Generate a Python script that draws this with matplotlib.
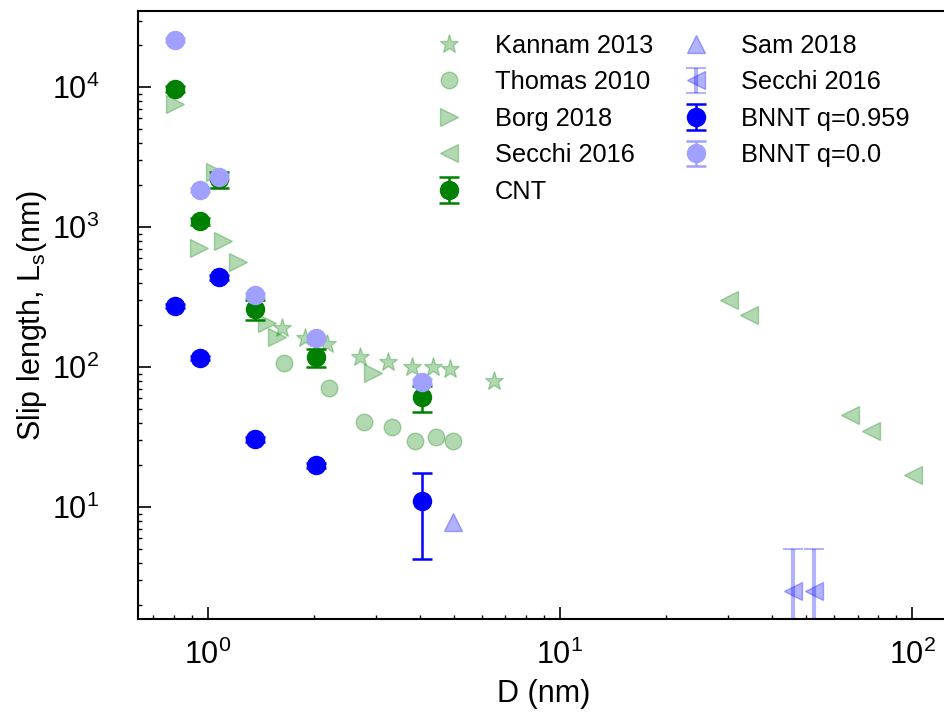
import numpy as np
import matplotlib
matplotlib.use("Agg")
from matplotlib import pyplot as plt

plt.rcParams["font.family"] = ["Liberation Sans", "DejaVu Sans"]
plt.rcParams["mathtext.fontset"] = "custom"
plt.rcParams["mathtext.rm"] = "Liberation Sans"
plt.rcParams["mathtext.default"] = "regular"

# literature data (D in nm, slip length in nm)
kannam_d = [1.626, 1.889, 2.18, 2.71, 3.25, 3.80, 4.365, 4.88, 6.51]
kannam_ls = [190, 161, 146, 118, 109, 100, 100, 96.8, 79.4]

thomas_d = [1.647, 2.21, 2.78, 3.34, 3.88, 4.45, 4.98]
thomas_ls = [107, 70.8, 40.5, 37.3, 29.6, 31.6, 29.6]

borg_d = [0.807, 0.945, 1.05, 1.105, 1.219, 1.474, 1.573, 2.95]
borg_ls = [7565, 708, 2500, 794, 562, 206, 164, 90.6]

secchi_d = [30.1, 34.3, 66.4, 76.6, 100.2]
secchi_ls = [301, 235, 45.4, 34.9, 16.9]

sam_d = [4.98]
sam_ls = [7.8]

secchi_bn_d = [46.0, 52.5]
secchi_bn_ls = [2.5, 2.5]
secchi_bn_err = [2.5, 2.5]

# simulation data
tube_d = [0.81, 0.95, 1.08, 1.36, 2.03, 4.07]
cnt_ls = [9680, 1104, 2200, 259, 118, 61]
cnt_err = [500, 70, 300, 42, 17, 13]
bnnt959_ls = [273, 116, 440, 30.6, 20, 11.0]
bnnt959_err = [10, 4, 18, 1.2, 0.8, 6.7]
bnnt0_ls = [21660, 1836, 2276, 326, 161, 79]
bnnt0_err = [700, 60, 80, 12, 6, 3]

fig = plt.figure(figsize=(9.45, 7.25), dpi=100)
ax = fig.add_axes([138 / 945, 106 / 725, 812 / 945, 608 / 725])

lit_green = dict(color="green", alpha=0.3, linestyle="none")
h_kannam, = ax.plot(kannam_d, kannam_ls, marker="*", markersize=14, label="Kannam 2013", **lit_green)
h_thomas, = ax.plot(thomas_d, thomas_ls, marker="o", markersize=12, label="Thomas 2010", **lit_green)
h_borg, = ax.plot(borg_d, borg_ls, marker=">", markersize=13, label="Borg 2018", **lit_green)
h_secchi, = ax.plot(secchi_d, secchi_ls, marker="<", markersize=13, label="Secchi 2016", **lit_green)
h_sam, = ax.plot(sam_d, sam_ls, marker="^", markersize=13, color="blue", alpha=0.3,
                 linestyle="none", label="Sam 2018")
h_secchi_bn = ax.errorbar(secchi_bn_d, secchi_bn_ls, yerr=secchi_bn_err, fmt="<", markersize=13,
                          color="blue", alpha=0.3, elinewidth=3, capsize=7, capthick=1.5,
                          label="Secchi 2016")

h_cnt = ax.errorbar(tube_d, cnt_ls, yerr=cnt_err, fmt="o", markersize=13, color="green",
                    elinewidth=1.8, capsize=7, capthick=1.8, label="CNT")
h_bn959 = ax.errorbar(tube_d, bnnt959_ls, yerr=bnnt959_err, fmt="o", markersize=13, color="blue",
                      elinewidth=1.8, capsize=7, capthick=1.8, label="BNNT q=0.959")
h_bn0 = ax.errorbar(tube_d, bnnt0_ls, yerr=bnnt0_err, fmt="o", markersize=13, color="#a0a0ff",
                    elinewidth=1.8, capsize=7, capthick=1.8, label="BNNT q=0.0")

ax.set_xscale("log")
ax.set_yscale("log")
ax.set_xlim(0.634, 128)
ax.set_ylim(1.59, 35080)

ax.spines["right"].set_visible(False)
for sp in ax.spines.values():
    sp.set_linewidth(1.5)
ax.tick_params(which="both", direction="in", top=False, right=False, labelsize=22)
ax.tick_params(axis="x", which="major", pad=15)
ax.tick_params(axis="y", which="major", pad=28)
ax.tick_params(which="major", length=9, width=1.2)
ax.tick_params(which="minor", length=3, width=1)

ax.set_xlabel("D (nm)", fontsize=22, labelpad=6)
ax.set_ylabel("Slip length, L$_s$(nm)", fontsize=22, labelpad=2)

handles = [h_kannam, h_thomas, h_borg, h_secchi, h_cnt, h_sam, h_secchi_bn, h_bn959, h_bn0]
ax.legend(handles=handles, labels=[h.get_label() for h in handles], ncol=2, frameon=False,
          fontsize=18.3, loc="upper left", bbox_to_anchor=(0.339, 1.0), handlelength=1.0,
          handletextpad=1.3, columnspacing=1.18, labelspacing=0.49)

fig.savefig("out.png", dpi=100)
